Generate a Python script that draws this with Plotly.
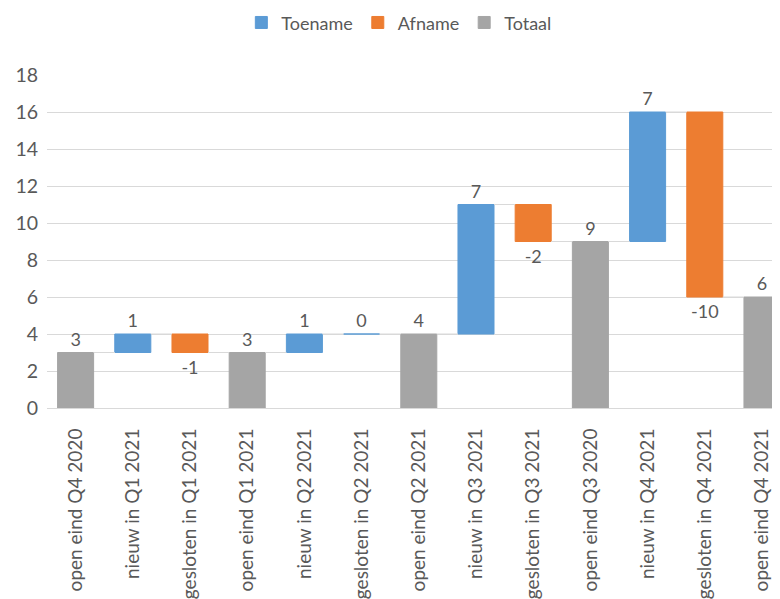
import plotly.graph_objects as go

categories = ["open eind Q4 2020", "nieuw in Q1 2021", "gesloten in Q1 2021",
              "open eind Q1 2021", "nieuw in Q2 2021", "gesloten in Q2 2021",
              "open eind Q2 2021", "nieuw in Q3 2021", "gesloten in Q3 2021",
              "open eind Q3 2020", "nieuw in Q4 2021", "gesloten in Q4 2021",
              "open eind Q4 2021"]
values = [3, 1, -1, 3, 1, 0, 4, 7, -2, 9, 7, -10, 6]
kinds = ["total", "inc", "dec", "total", "inc", "inc", "total",
         "inc", "dec", "total", "inc", "dec", "total"]
y_ticks = [0, 2, 4, 6, 8, 10, 12, 14, 16, 18]

BLUE, ORANGE, GRAY = "#5B9BD5", "#ED7D31", "#A5A5A5"
TXT = "#595959"
FONT = "Lato"
BW = 0.63

# running levels
bases, ends = [], []
level = 0
for v, k in zip(values, kinds):
    if k == "total":
        bases.append(0)
        level = v
        ends.append(v)
    else:
        bases.append(level)
        level = level + v
        ends.append(level)

fig = go.Figure()

# connectors
cx, cy = [], []
for i in range(len(values) - 1):
    cx += [i + BW / 2, i + 1 - BW / 2, None]
    cy += [ends[i], ends[i], None]
fig.add_trace(go.Scatter(x=cx, y=cy, mode="lines", line=dict(color="#D9D9D9", width=1),
                         showlegend=False, hoverinfo="skip"))

def add(kind, name, color):
    idx = [i for i, k in enumerate(kinds) if k == kind]
    fig.add_trace(go.Bar(
        x=idx,
        y=[values[i] for i in idx],
        base=[bases[i] for i in idx],
        name=name,
        marker=dict(color=color, line=dict(color=color, width=1)),
        width=BW,
        text=[str(values[i]) for i in idx],
        textposition="outside",
        textfont=dict(color=TXT, size=18, family=FONT),
        cliponaxis=False,
    ))

add("inc", "Toename", BLUE)
add("dec", "Afname", ORANGE)
add("total", "Totaal", GRAY)

fig.update_layout(
    width=772, height=591,
    margin=dict(l=39, r=0, t=67, b=191, autoexpand=False),
    paper_bgcolor="white", plot_bgcolor="white",
    barmode="overlay",
    font=dict(family=FONT, color=TXT, size=17),
    legend=dict(orientation="h", x=0.48, xanchor="center", y=0.975, yanchor="middle",
                yref="container", font=dict(size=18, color=TXT),
                traceorder="normal"),
    xaxis=dict(tickmode="array", tickvals=list(range(len(categories))), ticktext=categories,
               tickangle=-90, range=[-0.5, 12.315], showgrid=False, zeroline=False,
               showline=True, linecolor="#D9D9D9", linewidth=1, automargin=False,
               tickfont=dict(size=19, color=TXT, family=FONT), ticklabelstandoff=12),
    yaxis=dict(range=[0, 18], tickvals=y_ticks, showgrid=True, gridcolor="#D9D9D9",
               gridwidth=1, zeroline=False, showline=False, automargin=False,
               tickfont=dict(size=19.5, color=TXT, family=FONT), ticklabelstandoff=8),
)

fig.write_html("out.html")
